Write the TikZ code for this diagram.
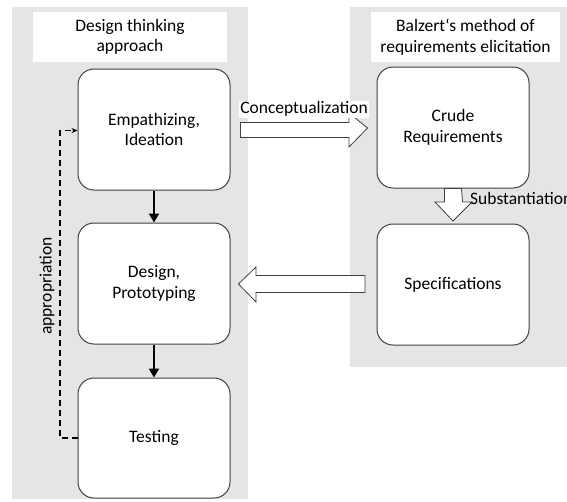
\documentclass[tikz,border=0pt]{standalone}
\usepackage{fontspec}
\setmainfont{Carlito}
\usetikzlibrary{arrows.meta,calc}
\definecolor{panel}{gray}{0.90}
\definecolor{edge}{gray}{0.25}
\tikzset{
  stagebox/.style={draw=edge, line width=1pt, fill=white, rounded corners=16pt,
    minimum width=152pt, minimum height=121pt, align=center, inner sep=0pt,
    font=\fontsize{17.5}{20.5}\selectfont},
  titlebox/.style={fill=white, minimum height=50pt, align=center, inner sep=0pt,
    font=\fontsize{17.5}{20.5}\selectfont},
  flow/.style={line width=2.4pt, -{Triangle[length=9pt,width=10pt]}},
  blockarrow/.style={draw=edge, line width=0.8pt, fill=white},
  lbl/.style={font=\fontsize{17.5}{20.5}\selectfont, inner sep=1pt},
  feedback/.style={line width=1.4pt, dash pattern=on 6pt off 4pt, -{Stealth[length=6pt,width=5pt]}}
}
\begin{document}
\begin{tikzpicture}[x=1pt,y=-1pt]
\useasboundingbox (0,0) rectangle (567,501);
% panels
\fill[panel] (12,7) rectangle (248,499);
\fill[panel] (350,7) rectangle (567,367);
% titles
\node[titlebox, minimum width=194pt] (t1) at (130,37) {Design thinking\\approach};
\node[titlebox, minimum width=189pt] (t2) at (465.5,37) {Balzert‘s method of\\requirements elicitation};
% stages
\node[stagebox] (emp) at (154,129.5) {Empathizing,\\Ideation};
\node[stagebox] (des) at (154,283.5) {Design,\\Prototyping};
\node[stagebox, minimum height=120pt] (tes) at (154,438) {Testing};
\node[stagebox] (cru) at (453,127.5) {Crude\\Requirements};
\node[stagebox] (spe) at (453,284.5) {Specifications};
% flow arrows
\draw[flow] (emp.south) -- (des.north);
\draw[flow] (des.south) -- (tes.north);
% conceptualization block arrow
\draw[blockarrow] ($(emp.east)+(10,-7)$) -- (349,122.5) -- (349,113) -- ($(cru.west)+(-9,0.5)$)
  -- (349,147) -- (349,137.5) -- ($(emp.east)+(10,8)$) -- cycle;
\node[lbl, fill=white, anchor=south] (lc) at (304,118) {Conceptualization};
% substantiation block arrow
\draw[blockarrow] ($(cru.south)+(-8.5,0)$) -- (444.5,202) -- (435,202) -- ($(spe.north)+(0,-2.5)$)
  -- (472,202) -- (462.5,202) -- ($(cru.south)+(8.5,0)$) -- cycle;
\node[lbl, anchor=west] (ls) at (469,198) {Substantiation};
% specifications -> design block arrow
\draw[blockarrow] ($(des.east)+(8,0.5)$) -- (256,267) -- (256,275.5) -- (365,275.5)
  -- (365,292.5) -- (256,292.5) -- (256,302) -- cycle;
% appropriation feedback
\coordinate (fb1) at (60,438);
\coordinate (fb2) at (60,130.5);
\draw[feedback] (tes.west) -- (fb1) -- (fb2) -- (emp.west |- fb2);
\node[lbl, rotate=90] (la) at (47,286) {appropriation};
\end{tikzpicture}
\end{document}
